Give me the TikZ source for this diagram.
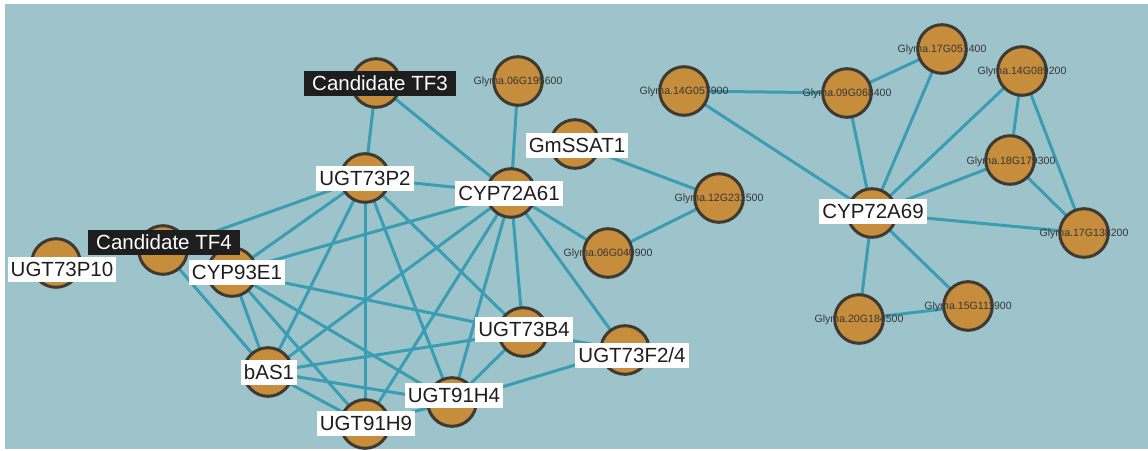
\documentclass[tikz,border=0pt]{standalone}
\usepackage{fontspec}
\setmainfont{Liberation Sans}
\usetikzlibrary{backgrounds}
\definecolor{bgteal}{HTML}{9DC4CB}
\definecolor{linkcol}{HTML}{3A9DB3}
\definecolor{nodefill}{HTML}{C58D3C}
\definecolor{nodeedge}{HTML}{3E3A32}
\definecolor{labeltext}{HTML}{1E1E1E}
\definecolor{tfbox}{HTML}{1E1E1E}
\definecolor{smalltext}{HTML}{363636}
\pgfdeclarelayer{bglayer}
\pgfdeclarelayer{edgelayer}
\pgfsetlayers{bglayer,edgelayer,main}
\begin{document}
\begin{tikzpicture}[x=1pt,y=-1pt,
  gene/.style={circle, draw=nodeedge, fill=nodefill, line width=3pt,
    minimum size=48.6pt, inner sep=0pt},
  link/.style={draw=linkcol, line width=3pt},
  tag/.style={fill=white, text=labeltext, font=\fontsize{20.5}{20.5}\selectfont,
    inner xsep=3pt, inner ysep=0pt, minimum height=25pt,
    text height=14.7pt, text depth=0pt},
  tftag/.style={tag, fill=tfbox, text=white, inner xsep=8.5pt},
  small/.style={font=\fontsize{10.6}{10.6}\selectfont, text=smalltext,
    inner sep=0pt, text height=7.6pt, text depth=0pt}]
\useasboundingbox (0,0) rectangle (1148,450);
\begin{pgfonlayer}{bglayer}
  \fill[bgteal] (5,4) rectangle (1148,449);
\end{pgfonlayer}

% genes of the left network
\node[gene] (tf3)  at (376,83)  {};
\node[gene] (tf4)  at (163,250) {};
\node[gene] (p10)  at (56,263)  {};
\node[gene] (e1)   at (232,272) {};
\node[gene] (bas)  at (268,372) {};
\node[gene] (h9)   at (365,424) {};
\node[gene] (h4)   at (452,402) {};
\node[gene] (p2)   at (365,178) {};
\node[gene] (a61)  at (511,193) {};
\node[gene] (g195) at (518,81)  {};
\node[gene] (ssat) at (575,144) {};
\node[gene] (b4)   at (523,332) {};
\node[gene] (f24)  at (625,350) {};
\node[gene] (g12)  at (719,198) {};
\node[gene] (g040) at (608,253) {};

% genes of the right network
\node[gene] (g14a) at (684,91)  {};
\node[gene] (g09)  at (847,93)  {};
\node[gene] (g17a) at (942,49)  {};
\node[gene] (g14b) at (1022,71) {};
\node[gene] (g18)  at (1010,160) {};
\node[gene] (g17b) at (1084,233) {};
\node[gene] (a69)  at (872,213) {};
\node[gene] (g20)  at (859,319) {};
\node[gene] (g15)  at (968,306) {};

% co-expression links
\begin{pgfonlayer}{edgelayer}
  \foreach \u/\v in {tf3/p2, tf3/a61, g195/a61, p2/a61, p2/tf4, p2/e1, p2/bas,
      p2/h9, p2/h4, p2/b4, a61/e1, a61/bas, a61/h9, a61/h4, a61/b4, a61/f24,
      a61/g040, e1/bas, e1/h9, e1/h4, e1/b4, tf4/bas, bas/b4, bas/h4, bas/h9,
      h9/h4, h4/b4, h4/f24, b4/f24, ssat/g12, g12/g040,
      g14a/g09, g14a/a69, g09/g17a, g09/a69, g17a/a69, g14b/a69, g14b/g18,
      g14b/g17b, g18/a69, g18/g17b, a69/g17b, a69/g20, a69/g15, g20/g15}
    \draw[link] (\u.center) -- (\v.center);
\end{pgfonlayer}

% small gene identifiers
\node[small] at (g195) {Glyma.06G195600};
\node[small] at (g12)  {Glyma.12G231500};
\node[small] at (g040) {Glyma.06G040900};
\node[small] at (g14a) {Glyma.14G057900};
\node[small] at (g09)  {Glyma.09G068400};
\node[small] at (g17a) {Glyma.17G051400};
\node[small] at (g14b) {Glyma.14G089200};
\node[small] at ([shift={(1,1)}]g18) {Glyma.18G179300};
\node[small] at (g17b) {Glyma.17G138200};
\node[small] at (g20)  {Glyma.20G184500};
\node[small] at (g15)  {Glyma.15G111900};

% named gene labels
\node[tag] at ([shift={(6,6)}]p10)  {UGT73P10};
\node[tag] at ([shift={(1,0)}]bas)  {bAS1};
\node[tag] at ([shift={(1,-1)}]h9)  {UGT91H9};
\node[tag] at ([shift={(2,-7)}]h4)  {UGT91H4};
\node[tag] at (p2)                  {UGT73P2};
\node[tag] at ([shift={(-2,0)}]a61) {CYP72A61};
\node[tag] at ([shift={(2,1)}]ssat) {GmSSAT1};
\node[tag] at ([shift={(1,-3)}]b4)  {UGT73B4};
\node[tag] at ([shift={(7,5)}]f24)  {UGT73F2/4};
\node[tag] at ([shift={(1,-2)}]a69) {CYP72A69};
\node[tftag] at ([shift={(1,-8)}]tf4) {Candidate TF4};
\node[tag] at ([shift={(5,0)}]e1)   {CYP93E1};
\node[tftag] at ([shift={(4,0)}]tf3) {Candidate TF3};
\end{tikzpicture}
\end{document}
